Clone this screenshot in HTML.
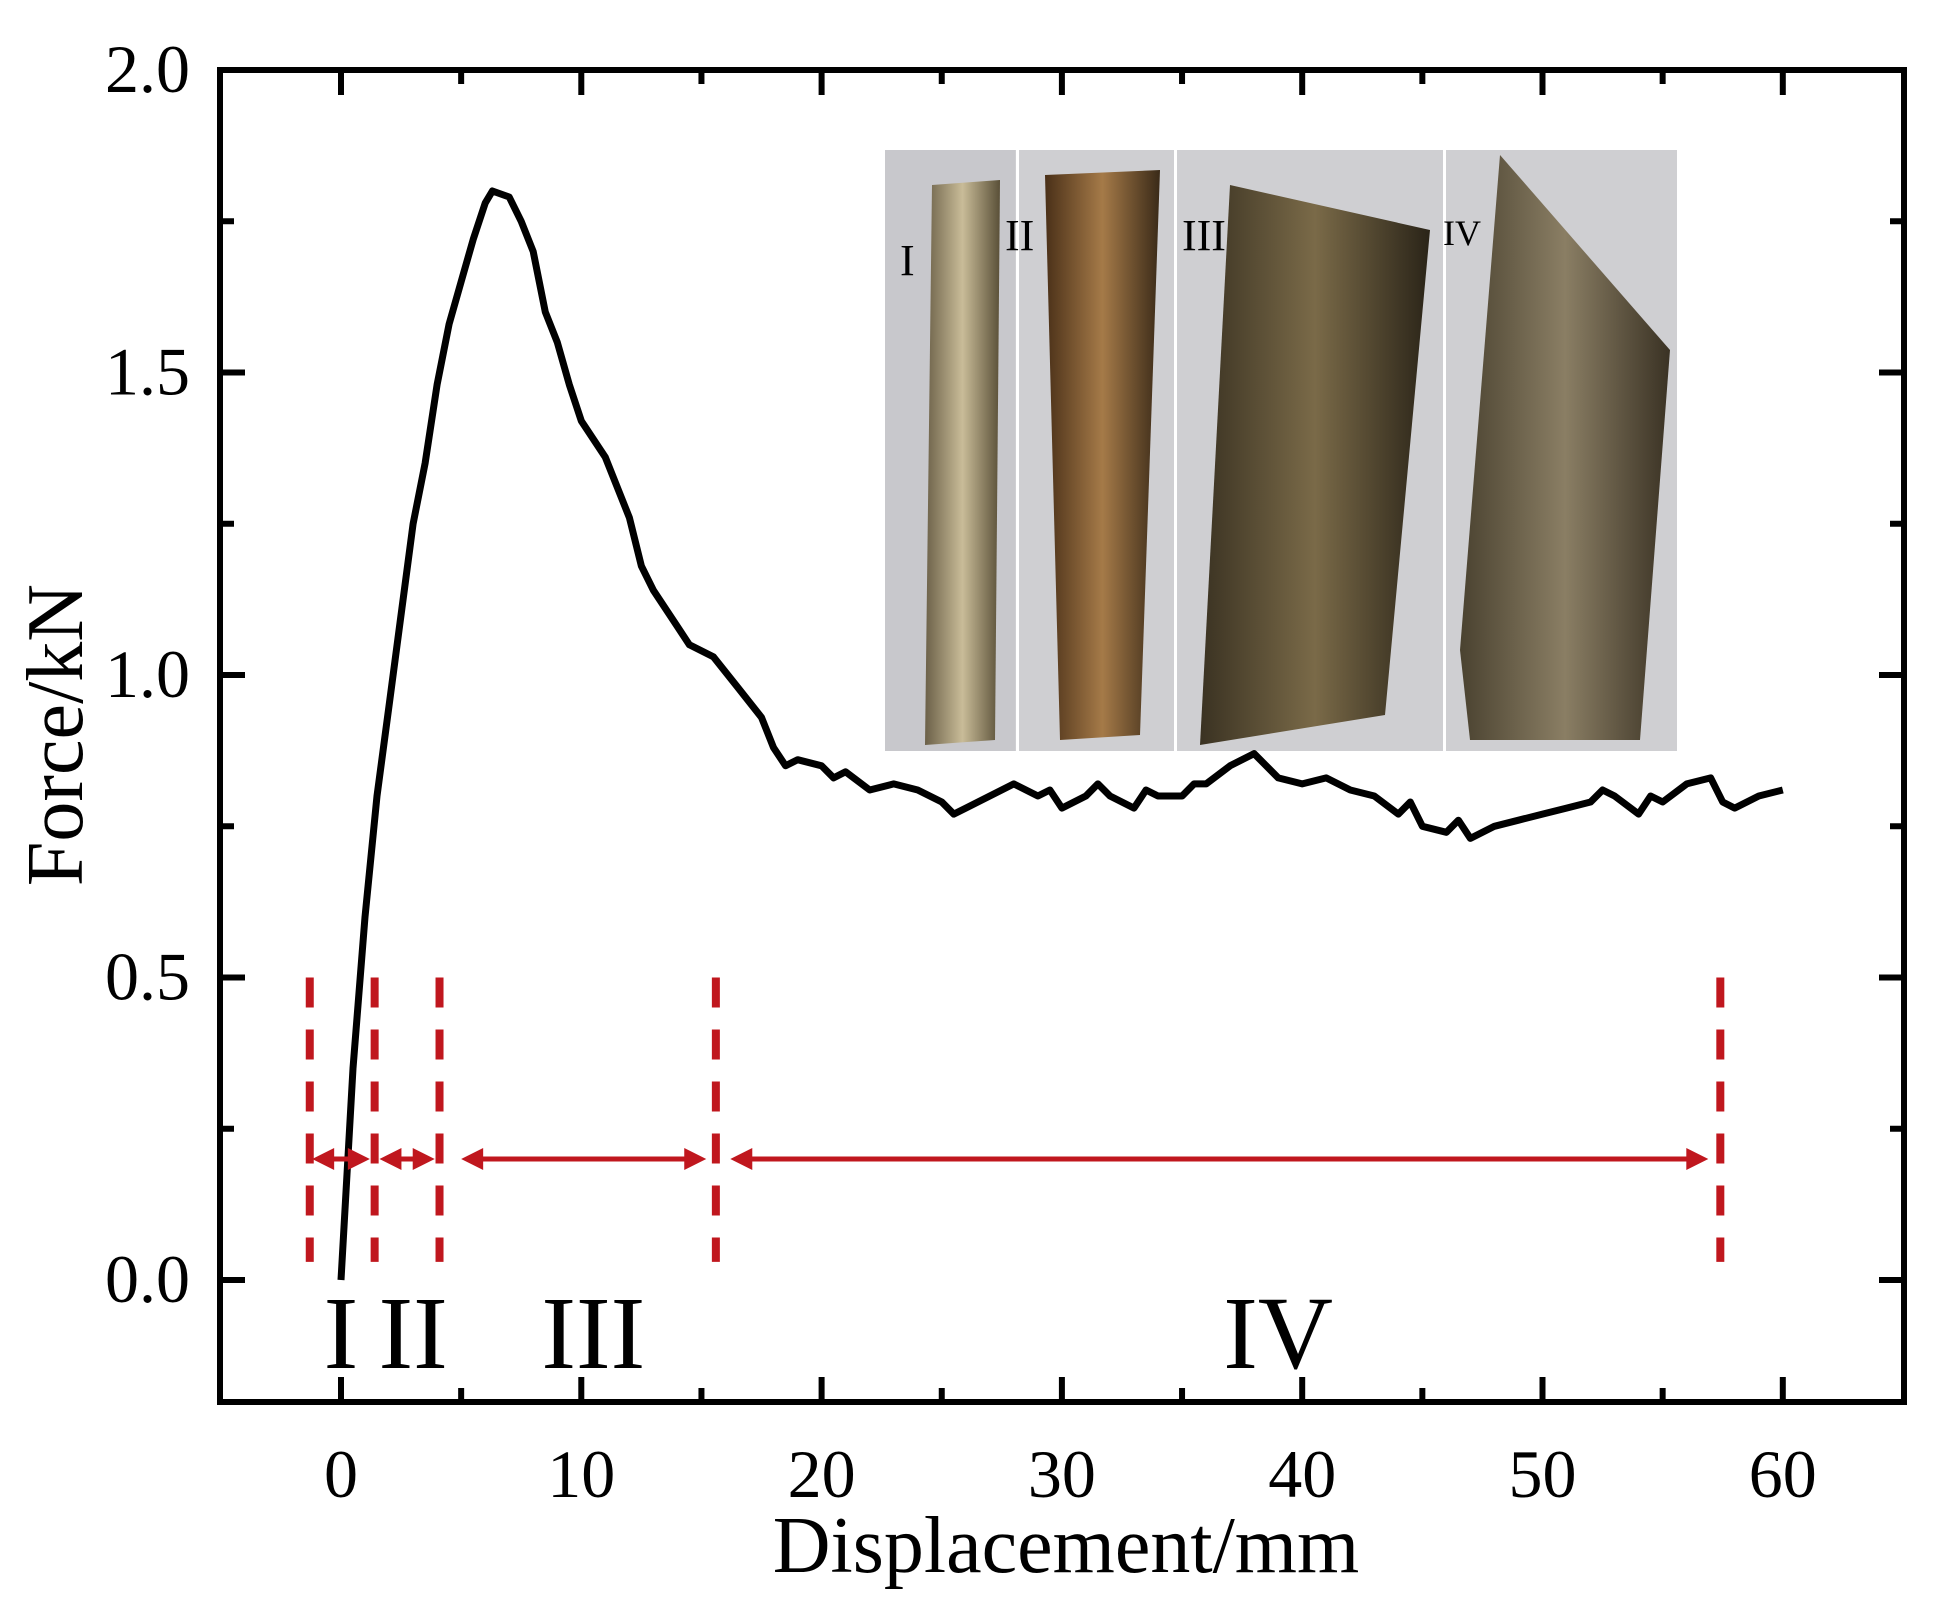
<!DOCTYPE html>
<html><head><meta charset="utf-8"><style>
html,body{margin:0;padding:0;background:#fff;}
svg{display:block;font-family:"Liberation Serif",serif;}
</style></head><body>
<svg id="chart" width="1945" height="1608" viewBox="0 0 1945 1608">
<defs>
<linearGradient id="g1" x1="0" x2="1"><stop offset="0" stop-color="#6b6048"/><stop offset="0.5" stop-color="#c9bc98"/><stop offset="1" stop-color="#5a5038"/></linearGradient>
<linearGradient id="g2" x1="0" x2="1"><stop offset="0" stop-color="#4a3018"/><stop offset="0.5" stop-color="#a57a48"/><stop offset="1" stop-color="#3a2a18"/></linearGradient>
<linearGradient id="g3" x1="0" x2="1"><stop offset="0" stop-color="#3a3222"/><stop offset="0.5" stop-color="#7a6a48"/><stop offset="1" stop-color="#2a2418"/></linearGradient>
<linearGradient id="g4" x1="0" x2="1"><stop offset="0" stop-color="#4a4230"/><stop offset="0.5" stop-color="#8a7e64"/><stop offset="1" stop-color="#3a3224"/></linearGradient>
</defs>
<g id="inset">
<rect x="885" y="150" width="792" height="601" fill="#cfcfd2"/>
<rect x="885" y="150" width="130" height="601" fill="#c8c8cc"/>
<polygon points="932,185 1000,180 995,740 925,745" fill="url(#g1)"/>
<polygon points="1045,175 1160,170 1140,735 1060,740" fill="url(#g2)"/>
<polygon points="1230,185 1430,230 1385,715 1200,745" fill="url(#g3)"/>
<polygon points="1500,155 1670,350 1640,740 1470,740 1460,650" fill="url(#g4)"/>
<rect x="1016" y="150" width="3" height="601" fill="#fff"/>
<rect x="1174" y="150" width="3" height="601" fill="#fff"/>
<rect x="1443" y="150" width="3" height="601" fill="#fff"/>
<text x="900" y="275" font-size="44">I</text>
<text x="1005" y="250" font-size="44">II</text>
<text x="1182" y="250" font-size="44">III</text>
<text x="1443" y="245" font-size="36">IV</text>
</g>
<g id="plot"></g>
</svg>
<script>
const xs=[0,0.5,1,1.5,2,2.5,3,3.5,4,4.5,5,5.5,6,6.3,7,7.5,8,8.5,9,9.5,10,11,12,12.5,13,14,14.5,15.5,16.5,17.5,18,18.5,19,20,20.5,21,22,23,24,25,25.5,26,27,28,29,29.5,30,31,31.5,32,33,33.5,34,35,35.5,36,37,38,39,40,41,42,43,44,44.5,45,46,46.5,47,48,49,50,51,52,52.5,53,54,54.5,55,56,57,57.5,58,59,60];
const ys=[0,0.35,0.6,0.8,0.95,1.1,1.25,1.35,1.48,1.58,1.65,1.72,1.78,1.80,1.79,1.75,1.70,1.60,1.55,1.48,1.42,1.36,1.26,1.18,1.14,1.08,1.05,1.03,0.98,0.93,0.88,0.85,0.86,0.85,0.83,0.84,0.81,0.82,0.81,0.79,0.77,0.78,0.80,0.82,0.80,0.81,0.78,0.80,0.82,0.80,0.78,0.81,0.80,0.80,0.82,0.82,0.85,0.87,0.83,0.82,0.83,0.81,0.80,0.77,0.79,0.75,0.74,0.76,0.73,0.75,0.76,0.77,0.78,0.79,0.81,0.80,0.77,0.80,0.79,0.82,0.83,0.79,0.78,0.80,0.81];
const xTicks=[0,10,20,30,40,50,60];
const yTicks=[0,0.5,1.0,1.5,2.0];
const yTickLabels=["0.0","0.5","1.0","1.5","2.0"];
const boundaries=[-1.3,1.4,4.1,15.6,57.4];
const arrowSpans=[[-1.2,1.2],[1.6,3.9],[5,15.2],[16.2,56.9]];
const stageNames=["I","II","III","IV"];
const stageLabelX=[0,3,10.5,39];
const arrowY=0.2;

const NS="http://www.w3.org/2000/svg";
const L=220,R=1904,T=70,B=1402;
const X=v=>341+v*24.03, Y=v=>1280-v*605;
const g=document.getElementById('plot');
function mk(t,a,p){const e=document.createElementNS(NS,t);for(const k in a)e.setAttribute(k,a[k]);(p||g).appendChild(e);return e;}

let fr=mk('rect',{x:L,y:T,width:R-L,height:B-T,fill:'none',stroke:'#000','stroke-width':6});



for(let v=-5;v<=65;v+=5){const x=X(v);if(x<L+5||x>R-5)continue;const len=v%10===0?25:14;
 let t=mk('line',{x1:x,x2:x,y1:B,y2:B-len,stroke:'#000','stroke-width':6});
 
 
 let t2=mk('line',{x1:x,x2:x,y1:T,y2:T+len,stroke:'#000','stroke-width':6});
 
 }
xTicks.forEach(v=>{let t=mk('text',{x:X(v),y:1497,'font-size':68,'text-anchor':'middle'});t.textContent=v;
 
 });
for(let v=-0.25;v<=2.0001;v+=0.25){const y=Y(v);if(y<T+5||y>B-5)continue;const major=Math.abs(v*2-Math.round(v*2))<1e-6;const len=major?25:14;
 let t=mk('line',{x1:L,x2:L+len,y1:y,y2:y,stroke:'#000','stroke-width':6});
 
 
 let t2=mk('line',{x1:R,x2:R-len,y1:y,y2:y,stroke:'#000','stroke-width':6});
 
 }
yTicks.forEach((v,i)=>{let t=mk('text',{x:190,y:Y(v)+22,'font-size':68,'text-anchor':'end'});t.textContent=yTickLabels[i];
 
 });

let xt=mk('text',{x:1066,y:1572,'font-size':80,'text-anchor':'middle'});xt.textContent='Displacement/mm';


let yt=mk('text',{x:0,y:0,'font-size':80,'text-anchor':'middle',transform:'translate(82,735) rotate(-90)'});yt.textContent='Force/kN';



let d=xs.map((v,i)=>(i?'L':'M')+X(v).toFixed(1)+','+Y(ys[i]).toFixed(1)).join(' ');
let c=mk('path',{d:d,fill:'none',stroke:'#000','stroke-width':7,'stroke-linejoin':'round'});



boundaries.forEach(v=>{let l=mk('line',{x1:X(v),x2:X(v),y1:Y(0.5),y2:Y(0.03),stroke:'#c0171e','stroke-width':8,'stroke-dasharray':'30,22'});
 
 });
arrowSpans.forEach(s=>{const x1=X(s[0]),x2=X(s[1]),y=Y(arrowY);
 let gg=mk('g',{});
 
 
 mk('line',{x1:x1+12,x2:x2-12,y1:y,y2:y,stroke:'#c0171e','stroke-width':5},gg);
 mk('polygon',{points:`${x1},${y} ${x1+22},${y-11} ${x1+22},${y+11}`,fill:'#c0171e'},gg);
 mk('polygon',{points:`${x2},${y} ${x2-22},${y-11} ${x2-22},${y+11}`,fill:'#c0171e'},gg);});
stageNames.forEach((n,i)=>{let t=mk('text',{x:X(stageLabelX[i]),y:1368,'font-size':104,'text-anchor':'middle'});t.textContent=n;
 
 });
</script>
</body></html>
